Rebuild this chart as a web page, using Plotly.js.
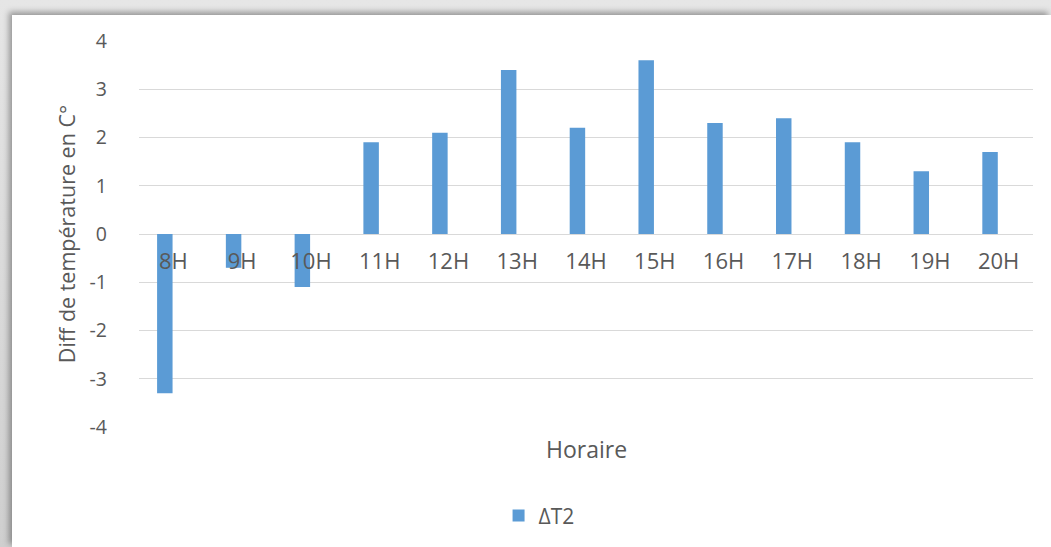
<!DOCTYPE html>
<html>
<head>
<meta charset="utf-8">
<script src="https://cdn.plot.ly/plotly-3.0.1.min.js"></script>
<style>
  html, body { margin: 0; padding: 0; background: #ffffff; }
  #frame { position: relative; width: 1051px; height: 547px; overflow: hidden;
           background: linear-gradient(to bottom, #e6e6e6, #cfcfcf); }
  #chart { position: absolute; left: 12px; top: 15px; width: 1039px; height: 532px;
           background: #ffffff; box-shadow: -3px -3px 6px rgba(0,0,0,0.35); }
</style>
</head>
<body>
<div id="frame"><div id="chart"></div></div>
<script>
const categories = ['8H','9H','10H','11H','12H','13H','14H','15H','16H','17H','18H','19H','20H'];
const deltaT2 = [-3.3, -0.7, -1.1, 1.9, 2.1, 3.4, 2.2, 3.6, 2.3, 2.4, 1.9, 1.3, 1.7];
const seriesName = 'ΔT2';
const yTicks = [-4, -3, -2, -1, 0, 1, 2, 3, 4];

const textColor = '#595959';
const fontFamily = '"Open Sans", "DejaVu Sans", sans-serif';

const trace = {
  type: 'bar',
  x: categories,
  y: deltaT2,
  name: seriesName,
  width: 0.225,
  offset: -0.237,
  marker: { color: '#5b9bd5' },
  showlegend: true
};

const layout = {
  width: 1039,
  height: 532,
  margin: { l: 127, r: 18, t: 26, b: 119 },
  paper_bgcolor: '#ffffff',
  plot_bgcolor: '#ffffff',
  font: { family: fontFamily, color: textColor },
  showlegend: true,
  legend: {
    orientation: 'h', x: 0.4475, xanchor: 'center', y: -0.227, yanchor: 'middle',
    font: { size: 21, color: textColor, family: fontFamily }
  },
  xaxis: {
    type: 'category',
    anchor: 'free',
    position: 0.5,
    showline: false,
    showgrid: false,
    zeroline: false,
    ticks: '',
    ticklabelstandoff: 12,
    tickfont: { size: 22, color: textColor, family: fontFamily }
  },
  yaxis: {
    range: [-4, 4],
    tickvals: yTicks,
    ticktext: yTicks.map(String),
    showgrid: true,
    gridcolor: '#d9d9d9',
    gridwidth: 1,
    zeroline: false,
    showline: false,
    ticks: '',
    ticklabelstandoff: 31,
    tickfont: { size: 19.5, color: textColor, family: fontFamily },
    title: { text: 'Diff de température en C°', standoff: 8,
             font: { size: 21.5, color: textColor, family: fontFamily } }
  },
  annotations: [{
    text: 'Horaire', xref: 'paper', yref: 'paper', x: 0.5, y: -0.057,
    xanchor: 'center', yanchor: 'middle', showarrow: false,
    font: { size: 23, color: textColor, family: fontFamily }
  }]
};

Plotly.newPlot('chart', [trace], layout, { displayModeBar: false, staticPlot: true });
</script>
</body>
</html>
